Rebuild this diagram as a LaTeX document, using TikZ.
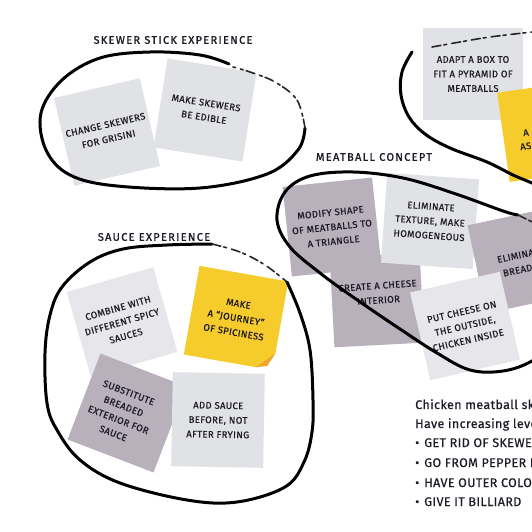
\documentclass[tikz,border=0pt]{standalone}
\usepackage{fontspec}
\setmainfont{Fira Sans}
\newfontfamily\notefont{Fira Sans}[FakeBold=0.7, LetterSpace=4]
\newfontfamily\titlefont{Fira Sans}[FakeBold=1.2, LetterSpace=12]
\newfontfamily\bodyfont{Fira Sans}[FakeBold=0.5, LetterSpace=3]
\definecolor{ink}{HTML}{1E1B26}
\definecolor{lite}{HTML}{E1E2E5}
\definecolor{lite2}{HTML}{E7E6EA}
\definecolor{mauve}{HTML}{B8B0BB}
\definecolor{sun}{HTML}{F6CB2C}
\definecolor{foldc}{HTML}{EBA92A}
\tikzset{
  note/.style={minimum width=90pt, minimum height=90pt, inner sep=0pt, draw=none,
    align=center, font=\notefont\fontsize{9.5}{14.5}\selectfont, text=ink},
  notetext/.style={align=center, font=\notefont\fontsize{9.5}{14.5}\selectfont, text=ink, inner sep=0pt},
  titletext/.style={font=\titlefont\fontsize{11}{13}\selectfont, text=ink, inner sep=0pt},
  bodytext/.style={font=\bodyfont\fontsize{12.5}{13}\selectfont, text=ink, inner sep=0pt, anchor=base west},
  loopline/.style={line width=3pt, line cap=round, line join=round, draw=black},
  sketchline/.style={line width=1.6pt, line cap=round, draw=black!85,
    dash pattern=on 9pt off 3pt on 3pt off 5pt},
}
\begin{document}
\begin{tikzpicture}[x=1pt,y=-1pt]
\useasboundingbox (0,0) rectangle (532,532);
\clip (0,0) rectangle (532,532);
\fill[white] (0,0) rectangle (532,532);

% ---------- skewer stick experience ----------
\node[titletext] (t1) at (173,40) {SKEWER STICK EXPERIENCE};
\node[note, fill=lite, rotate=13, minimum width=88pt] (s1) at (107,132) {CHANGE SKEWERS\\FOR GRISINI};
\node[note, fill=lite, rotate=-9] (s2) at (205,110) {MAKE SKEWERS\\BE EDIBLE};

% ---------- top right ----------
\node[note, fill=lite, minimum width=100pt, minimum height=92pt] (s3) at (473,74) {ADAPT A BOX TO\\FIT A PYRAMID OF\\MEATBALLS};
\node[note, fill=sun, rotate=8] (s4) at (548,131) {};
\node[notetext, anchor=west, rotate=8] (s4a) at (523,133) {A};
\node[notetext, anchor=west, rotate=8] (s4b) at (520,147) {AS};

% ---------- sauce experience ----------
\node[titletext] (t2) at (154,237) {SAUCE EXPERIENCE};
\node[note, fill=lite2, rotate=16, minimum height=88pt] (s5) at (122,322) {COMBINE WITH\\DIFFERENT SPICY\\SAUCES};
\node[note, fill=sun, rotate=-10] (s6) at (236,318) {MAKE\\A “JOURNEY”\\OF SPICINESS};
\begin{scope}[shift={(236,318)}, rotate=-10]
  \fill[white] (45.5,28) -- (45.5,45.5) -- (28,45.5) -- cycle;
  \fill[foldc] (28,45) .. controls (33,40) and (40,33) .. (45,28) -- (39,42) -- cycle;
\end{scope}
\node[note, fill=mauve, rotate=-21, minimum width=92pt, minimum height=92pt] (s7) at (127,413) {};
\node[notetext, rotate=-21] (s7t) at (121,413) {SUBSTITUTE\\BREADED\\EXTERIOR FOR\\SAUCE};
\node[note, fill=lite, rotate=-1, minimum width=92pt, minimum height=94pt] (s8) at (218,420) {ADD SAUCE\\BEFORE, NOT\\AFTER FRYING};

% ---------- meatball concept ----------
\node[titletext] (t3) at (374,157) {MEATBALL CONCEPT};
\node[note, fill=mauve, rotate=3] (s9) at (377,300) {};
\node[notetext, rotate=4] (s9t) at (378,293) {CREATE A CHEESE\\INTERIOR};
\node[note, fill=mauve, rotate=6] (s10) at (332,227) {MODIFY SHAPE\\OF MEATBALLS TO\\A TRIANGLE};
\node[note, fill=lite, rotate=-4, minimum width=92pt] (s11) at (430,221) {ELIMINATE\\TEXTURE, MAKE\\HOMOGENEOUS};
\node[note, fill=mauve, rotate=12] (s12) at (521,260) {};
\node[notetext, rotate=12] (s12t) at (522,262) {ELIMINATE\\BREADED};
\node[note, fill=lite2, rotate=13, minimum width=92pt] (s13) at (465,326) {PUT CHEESE ON\\THE OUTSIDE,\\CHICKEN INSIDE};

% ---------- loops ----------
\draw[loopline] plot[smooth, tension=0.6] coordinates {(229,64) (200,55) (150,52) (100,58) (62,80) (41,113) (46,150) (70,175) (117,186) (200,188) (267,174) (298,150) (305,128)};
\draw[sketchline] plot[smooth, tension=0.6] coordinates {(305,128) (297,100) (275,82) (250,72) (233,67)};

\draw[loopline] plot[smooth, tension=0.6] coordinates {(287,282) (300,313) (310,350) (313,400) (312,432) (304,462) (285,487) (237,502) (187,500) (120,483) (80,460) (57,430) (47,403) (45,353) (50,315) (62,287) (90,262) (123,249) (167,245) (212,244)};
\draw[sketchline] plot[smooth, tension=0.6] coordinates {(212,244) (240,252) (265,265) (287,282)};

\draw[loopline] plot[smooth, tension=0.6] coordinates {(518,215) (503,211) (453,193) (403,178) (353,172) (310,176) (285,192) (277,220) (290,247) (320,273) (353,297) (397,327) (437,353) (470,370) (503,371) (532,361) (560,340)};
\draw[sketchline] plot[smooth, tension=0.6] coordinates {(518,215) (532,222) (550,232)};

\draw[loopline] plot[smooth, tension=0.6] coordinates {(412,52) (402,72) (401,95) (409,117) (425,134) (450,148) (487,162) (513,175) (532,183) (560,195)};
\draw[sketchline] plot[smooth, tension=0.6] coordinates {(432,47) (460,42) (490,37) (532,32)};

% ---------- notes text ----------
\node[bodytext] (b1) at (415,409) {Chicken meatball skewers};
\node[bodytext] (b2) at (415,428) {Have increasing levels};
\node[bodytext] (b3) at (415,447) {•\hspace{5pt}GET RID OF SKEWERS};
\node[bodytext] (b4) at (415,467) {•\hspace{5pt}GO FROM PEPPER H};
\node[bodytext] (b5) at (415,487) {•\hspace{5pt}HAVE OUTER COLOR};
\node[bodytext] (b6) at (415,506) {•\hspace{5pt}GIVE IT BILLIARD};
\end{tikzpicture}
\end{document}
